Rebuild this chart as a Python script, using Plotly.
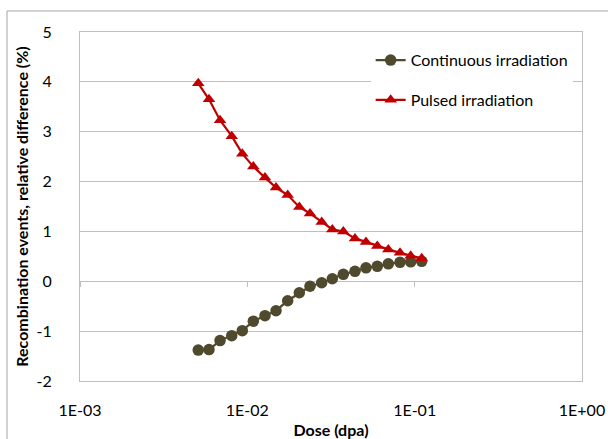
import plotly.graph_objects as go

dose = [0.00509, 0.00590, 0.00687, 0.00807, 0.00933, 0.01086, 0.01275, 0.01484,
        0.01742, 0.02045, 0.02369, 0.02782, 0.03220, 0.03746, 0.04399, 0.05119,
        0.05980, 0.06958, 0.08172, 0.09469, 0.11015]
continuous = [-1.38, -1.37, -1.19, -1.09, -0.99, -0.80, -0.69, -0.59, -0.39, -0.23,
              -0.10, -0.03, 0.05, 0.14, 0.20, 0.27, 0.30, 0.35, 0.38, 0.39, 0.40]
pulsed = [3.97, 3.65, 3.23, 2.91, 2.56, 2.30, 2.08, 1.88, 1.73, 1.49, 1.36, 1.19,
          1.04, 1.00, 0.86, 0.79, 0.71, 0.64, 0.57, 0.51, 0.46]
x_ticks = [0.001, 0.01, 0.1, 1]
x_ticktext = ["1E-03", "1E-02", "1E-01", "1E+00"]
y_ticks = [-2, -1, 0, 1, 2, 3, 4, 5]
y_ticktext = ["-2", "-1", "0", "1", "2", "3", "4", "5"]

FONT = "Lato"
FS = 16
GRID = "#BFBFBF"

fig = go.Figure()
fig.add_trace(go.Scatter(x=dose, y=continuous, mode="lines+markers",
                         name="Continuous irradiation", legendgroup="a",
                         line=dict(color="#4F4A2E", width=2.2),
                         marker=dict(symbol="circle", size=11.5, color="#4F4A2E")))
fig.add_trace(go.Scatter(x=dose, y=pulsed, mode="lines+markers",
                         name="Pulsed irradiation", legendgroup="b",
                         line=dict(color="#C00000", width=2.2),
                         marker=dict(symbol="triangle-up", size=11, color="#C00000")))
# invisible trace to carry the crossing axis (tick marks at y = 0)
fig.add_trace(go.Scatter(x=x_ticks, y=[0, 0, 0, 0], xaxis="x2", mode="markers",
                         marker=dict(opacity=0), showlegend=False, hoverinfo="skip"))

fig.update_layout(
    width=608, height=439,
    margin=dict(l=80, r=26, t=32, b=58, autoexpand=False),
    paper_bgcolor="white", plot_bgcolor="white",
    font=dict(family=FONT, size=FS, color="#000000"),
    showlegend=True,
    legend=dict(x=0.579, y=0.968, xanchor="left", yanchor="top",
                bgcolor="white", borderwidth=0, tracegroupgap=16,
                font=dict(family=FONT, size=FS), itemwidth=30),
    xaxis=dict(type="log", range=[-3, 0], tickvals=x_ticks, ticktext=x_ticktext,
               showgrid=False, zeroline=False, showline=True, mirror=True,
               linecolor=GRID, linewidth=1, ticks="", ticklabelstandoff=15,
               automargin=False,
               title=dict(text="<b>Dose (dpa)</b>", standoff=12,
                          font=dict(family=FONT, size=FS))),
    xaxis2=dict(type="log", range=[-3, 0], overlaying="x", anchor="free",
                position=2 / 7, side="bottom", tickvals=x_ticks, ticks="outside",
                ticklen=5, tickcolor=GRID, showticklabels=False, showgrid=False,
                showline=False, zeroline=False, automargin=False),
    yaxis=dict(range=[-2, 5], tickvals=y_ticks, ticktext=y_ticktext,
               showgrid=True, gridcolor=GRID,
               gridwidth=1, zeroline=False, showline=True, mirror=True,
               linecolor=GRID, linewidth=1, ticks="", ticklabelstandoff=24,
               automargin=False,
               title=dict(text="<b>Recombination events, relative difference (%)</b>",
                          standoff=3, font=dict(family=FONT, size=FS))),
    shapes=[dict(type="rect", xref="paper", yref="paper",
                 x0=-0.1454, x1=1.2, y0=-0.3, y1=1.0602,
                 line=dict(color="#A6A6A6", width=1), fillcolor="rgba(0,0,0,0)",
                 layer="below")],
)

fig.write_html("out.html")
